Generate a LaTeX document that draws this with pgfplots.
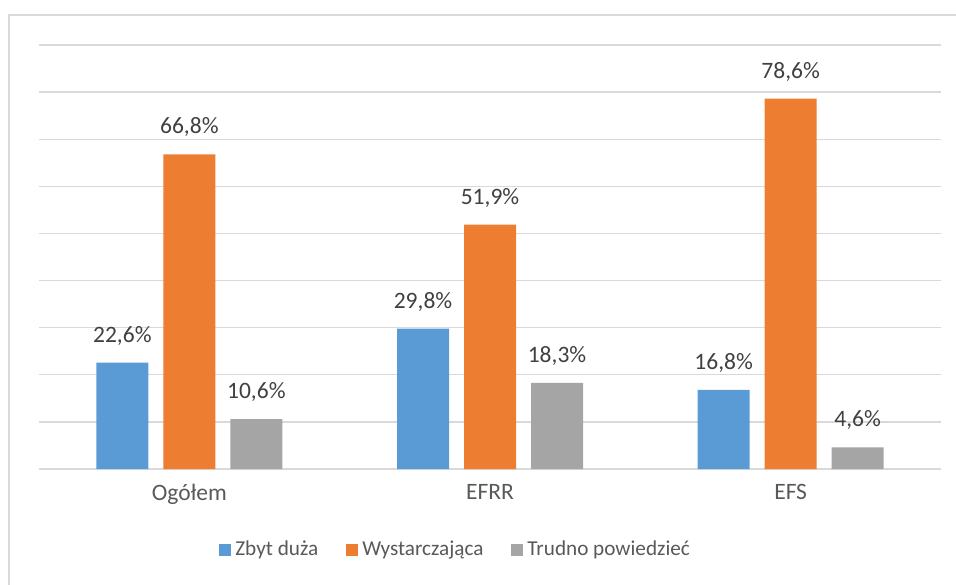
\documentclass[border=0pt]{standalone}
\usepackage{fontspec}
\setmainfont{Carlito}
\usepackage{pgfplots}
\pgfplotsset{compat=1.18}

\definecolor{cblue}{HTML}{5B9BD5}
\definecolor{corange}{HTML}{ED7D31}
\definecolor{cgray}{HTML}{A5A5A5}
\definecolor{gridc}{HTML}{D9D9D9}
\definecolor{labc}{HTML}{595959}
\definecolor{datc}{HTML}{404040}

\begin{document}
\begin{tikzpicture}
% 1 px of the reference = 0.5pt
\path[use as bounding box] (-19.5pt,-57.5pt) rectangle (458.5pt,234.5pt);
\draw[gridc, line width=1pt] (-15pt,-60pt) -- (-15pt,227pt) -- (460pt,227pt);
\begin{axis}[
    name=ax,
    scale only axis,
    width=451pt, height=212pt,
    ybar=7.5pt,
    bar width=26pt,
    xmin=-0.5, xmax=2.5,
    ymin=0, ymax=90,
    xtick=data,
    xticklabels={Ogółem, EFRR, EFS},
    ytick={0,10,...,90},
    yticklabels={},
    major tick length=0pt,
    axis line style={draw=none},
    ymajorgrids,
    grid style={gridc, line width=0.7pt},
    font=\fontsize{11.75}{14}\selectfont,
    xticklabel style={text=labc, yshift=-4pt},
    point meta=explicit symbolic,
    nodes near coords,
    every node near coord/.append style={text=datc, inner sep=0pt, anchor=south, yshift=8.5pt},
    legend columns=3,
    legend style={draw=none, at={(0.463,-0.191)}, anchor=center,
        text=labc, font=\fontsize{10.6}{13}\selectfont,
        /tikz/every even column/.append style={column sep=12pt}},
    legend image code/.code={\fill[#1] (0pt,-3pt) rectangle (6pt,3pt);},
]
\addplot[draw=none, fill=cblue] coordinates {(0,22.6) [22,6\%] (1,29.8) [29,8\%] (2,16.8) [16,8\%]};
\addplot[draw=none, fill=corange] coordinates {(0,66.8) [66,8\%] (1,51.9) [51,9\%] (2,78.6) [78,6\%]};
\addplot[draw=none, fill=cgray] coordinates {(0,10.6) [10,6\%] (1,18.3) [18,3\%] (2,4.6) [4,6\%]};
\legend{Zbyt duża, Wystarczająca, Trudno powiedzieć}
\end{axis}
\end{tikzpicture}
\end{document}
